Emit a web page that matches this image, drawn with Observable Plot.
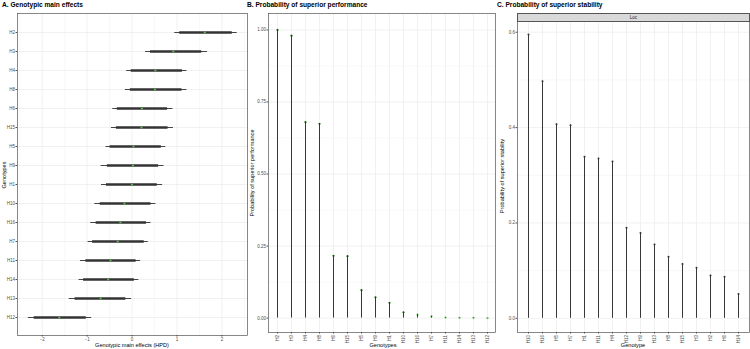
<!DOCTYPE html>
<html><head><meta charset="utf-8">
<script src="https://cdn.jsdelivr.net/npm/d3@7"></script>
<script src="https://cdn.jsdelivr.net/npm/@observablehq/plot@0.6"></script>
<style>
body{margin:0;background:#fff;font-family:"Liberation Sans",Arial,sans-serif;}
#root{position:relative;width:750px;height:349px;overflow:hidden;background:#fff}
.title{position:absolute;top:1px;font-weight:bold;font-size:6.6px;color:#000;white-space:nowrap}
.panel{position:absolute;top:0}
.xt{position:absolute;font-size:5.6px;color:#000;white-space:nowrap;transform:translateX(-50%)}
.yt{position:absolute;font-size:5.6px;color:#000;white-space:nowrap;transform:translate(-50%,-50%) rotate(-90deg)}
.strip{position:absolute;left:517px;top:13px;width:231px;height:7px;background:#d9d9d9;border:0.6px solid #555;font-size:4.5px;color:#1a1a1a;text-align:center;line-height:7px}
</style></head><body><div id="root"></div>
<script>
// Panel A: genotypic main effects (HPD)
const genoA = ["H2","H3","H4","H8","H6","H15","H5","H9","H1","H10","H16","H7","H11","H14","H13","H12"];
const meanA = [1.62,0.92,0.52,0.51,0.22,0.21,0.03,0.02,0.00,-0.17,-0.26,-0.32,-0.48,-0.53,-0.70,-1.62];
const outerLoA = [0.94,0.29,-0.13,-0.16,-0.44,-0.47,-0.59,-0.70,-0.69,-0.84,-0.93,-0.99,-1.16,-1.19,-1.41,-2.32];
const outerHiA = [2.33,1.67,1.21,1.21,0.90,0.91,0.74,0.70,0.67,0.52,0.41,0.35,0.18,0.14,-0.02,-0.91];
const innerLoA = [1.05,0.40,-0.03,-0.05,-0.34,-0.36,-0.50,-0.56,-0.58,-0.72,-0.81,-0.89,-1.04,-1.09,-1.28,-2.19];
const innerHiA = [2.22,1.54,1.11,1.10,0.78,0.79,0.64,0.58,0.55,0.41,0.31,0.26,0.08,0.04,-0.15,-1.03];
const ticksA = [-2,-1,0,1,2];

// Panel B: probability of superior performance
const genoB = ["H2","H3","H4","H8","H6","H15","H5","H9","H1","H10","H16","H7","H11","H14","H13","H12"];
const probB = [1.00,0.98,0.68,0.674,0.216,0.215,0.097,0.072,0.053,0.020,0.012,0.006,0.002,0.001,0.001,0.000];
const ticksB = [0,0.25,0.5,0.75,1];

// Panel C: probability of superior stability
const genoC = ["H10","H16","H5","H7","H1","H11","H4","H12","H9","H13","H8","H15","H3","H2","H6","H14"];
const probC = [0.595,0.497,0.407,0.405,0.339,0.335,0.329,0.190,0.179,0.155,0.129,0.114,0.106,0.090,0.087,0.051];
const ticksC = [0,0.2,0.4,0.6];
const stripC = "Loc";

const rowsA = genoA.map((g,i)=>({g, m:meanA[i], ol:outerLoA[i], oh:outerHiA[i], il:innerLoA[i], ih:innerHiA[i]}));
const rowsB = genoB.map((g,i)=>({g, p:probB[i]}));
const rowsC = genoC.map((g,i)=>({g, p:probC[i]}));

const root = document.getElementById("root");
const FONT = "'Liberation Sans', Arial, sans-serif";
const GRID = "#ebebeb";
const FRAME = "#555";
const TICKCOL = "#4d4d4d";
const green = "#5cbf4f";

function place(svg, left){
  const d = document.createElement("div");
  d.className = "panel"; d.style.left = left + "px";
  d.appendChild(svg); root.appendChild(d);
}
function addText(cls, txt, x, y){
  const d = document.createElement("div");
  d.className = cls; d.textContent = txt;
  d.style.left = x + "px"; d.style.top = y + "px";
  root.appendChild(d);
}
const style = {fontFamily: FONT, fontSize: "4.5px", background: "transparent", color: TICKCOL, overflow: "visible"};

// ---- A ----
const minorA = d3.range(-2.5, 2.51, 0.5).filter(v => !ticksA.includes(v));
const plotA = Plot.plot({
  width: 248, height: 349, marginLeft: 17, marginRight: 1, marginTop: 13, marginBottom: 14,
  style,
  x: {domain: [-2.55, 2.57]},
  y: {type: "point", domain: genoA, padding: 0.6},
  marks: [
    Plot.ruleX(minorA, {stroke: GRID, strokeWidth: 0.35}),
    Plot.ruleX(ticksA, {stroke: GRID, strokeWidth: 0.7}),
    Plot.ruleY(genoA, {y: d => d, stroke: GRID, strokeWidth: 0.7}),
    Plot.link(rowsA, {x1: "ol", x2: "oh", y1: "g", y2: "g", stroke: "#444", strokeWidth: 1}),
    Plot.link(rowsA, {x1: "il", x2: "ih", y1: "g", y2: "g", stroke: "#333", strokeWidth: 2.6}),
    Plot.dot(rowsA, {x: "m", y: "g", r: 1.1, fill: green, stroke: "none"}),
    Plot.frame({stroke: FRAME, strokeWidth: 0.7}),
    Plot.axisX({ticks: ticksA, tickFormat: d3.format("d"), tickSize: 1.5, tickPadding: 1, label: null, stroke: TICKCOL}),
    Plot.axisY({tickSize: 1.5, tickPadding: 1, label: null, stroke: TICKCOL})
  ]
});
place(plotA, 0);

// ---- B ----
const minorB = [0.125,0.375,0.625,0.875];
const plotB = Plot.plot({
  width: 250, height: 349, marginLeft: 22, marginRight: 1, marginTop: 13, marginBottom: 17,
  style,
  x: {type: "point", domain: genoB, padding: 0.6},
  y: {domain: [-0.05, 1.057]},
  marks: [
    Plot.ruleY(minorB, {stroke: GRID, strokeWidth: 0.35}),
    Plot.ruleY(ticksB, {stroke: GRID, strokeWidth: 0.7}),
    Plot.ruleX(genoB, {x: d => d, stroke: GRID, strokeWidth: 0.7}),
    Plot.dot(rowsB, {x: "g", y: "p", r: 1.1, fill: green, stroke: "none"}),
    Plot.ruleX(rowsB, {x: "g", y1: 0, y2: "p", stroke: "#222", strokeWidth: 0.9}),
    Plot.dot(rowsB.filter(d => d.p > 0.015), {x: "g", y: "p", r: 0.9, fill: "#333", stroke: "none"}),
    Plot.frame({stroke: FRAME, strokeWidth: 0.7}),
    Plot.axisX({tickSize: 1.5, tickPadding: 1, tickRotate: -90, label: null, stroke: TICKCOL}),
    Plot.axisY({ticks: ticksB, tickFormat: d3.format(".2f"), tickSize: 1.5, tickPadding: 1, label: null, stroke: TICKCOL})
  ]
});
place(plotB, 246);

// ---- C ----
const minorC = [0.1,0.3,0.5];
const plotC = Plot.plot({
  width: 254, height: 349, marginLeft: 21, marginRight: 1, marginTop: 21, marginBottom: 17,
  style,
  x: {type: "point", domain: genoC, padding: 0.6},
  y: {domain: [-0.0297, 0.6225]},
  marks: [
    Plot.ruleY(minorC, {stroke: GRID, strokeWidth: 0.35}),
    Plot.ruleY(ticksC, {stroke: GRID, strokeWidth: 0.7}),
    Plot.ruleX(genoC, {x: d => d, stroke: GRID, strokeWidth: 0.7}),
    Plot.ruleX(rowsC, {x: "g", y1: 0, y2: "p", stroke: "#222", strokeWidth: 0.9}),
    Plot.dot(rowsC, {x: "g", y: "p", r: 1, fill: "#333", stroke: "none"}),
    Plot.frame({stroke: FRAME, strokeWidth: 0.7}),
    Plot.axisX({tickSize: 1.5, tickPadding: 1, tickRotate: -90, label: null, stroke: TICKCOL}),
    Plot.axisY({ticks: ticksC, tickFormat: d3.format(".1f"), tickSize: 1.5, tickPadding: 1, label: null, stroke: TICKCOL})
  ]
});
place(plotC, 496);

// strip
const s = document.createElement("div");
s.className = "strip"; s.textContent = stripC; root.appendChild(s);

// titles
addText("title", "A. Genotypic main effects", 2, 1);
addText("title", "B. Probability of superior performance", 247, 1);
addText("title", "C. Probability of superior stability", 497, 1);
// axis titles
addText("xt", "Genotypic main effects (HPD)", 132, 342);
addText("xt", "Genotypes", 383, 342);
addText("xt", "Genotype", 633, 342);
addText("yt", "Genotypes", 4, 175);
addText("yt", "Probability of superior performance", 252, 173);
addText("yt", "Probability of superior stability", 502, 176);
</script></body></html>
